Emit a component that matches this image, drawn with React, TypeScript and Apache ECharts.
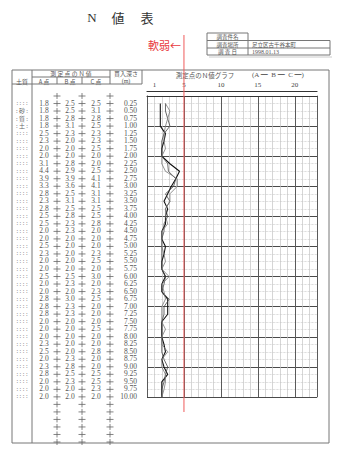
import React, { useEffect, useRef } from 'react';
import * as echarts from 'echarts';

// ---- data read from the sheet ----
const depthLabels = ['0.25','0.50','0.75','1.00','1.25','1.50','1.75','2.00','2.25','2.50','2.75','3.00','3.25','3.50','3.75','4.00','4.25','4.50','4.75','5.00','5.25','5.50','5.75','6.00','6.25','6.50','6.75','7.00','7.25','7.50','7.75','8.00','8.25','8.50','8.75','9.00','9.25','9.50','9.75','10.00'];
const nA = [1.8,1.8,1.8,1.8,2.5,2.3,2.0,2.0,3.1,4.4,3.9,3.3,2.8,2.3,2.8,2.5,2.5,2.0,2.0,2.5,2.3,2.0,2.0,2.5,2.0,2.0,2.8,2.8,2.8,2.0,2.0,2.0,2.3,2.5,2.0,2.3,2.8,2.0,2.0,2.0];
const nB = [2.5,2.5,2.8,3.1,2.3,2.0,2.0,2.0,2.8,2.9,3.9,3.6,2.5,3.1,2.5,2.8,2.3,2.3,2.0,2.0,2.0,2.0,2.0,2.5,2.3,2.0,3.0,2.3,2.3,2.0,2.0,2.0,2.0,2.0,2.3,2.8,2.5,2.3,2.0,2.0];
const nC = [2.5,3.1,2.8,2.5,2.3,2.3,2.5,2.0,2.0,2.5,4.1,4.1,3.1,3.1,2.5,2.5,2.8,2.0,2.0,2.0,2.3,2.5,2.0,3.0,2.0,2.3,2.5,2.0,2.0,2.0,2.5,2.0,2.0,2.8,2.0,2.0,2.5,2.5,2.3,2.0];
const blankRowDepths = [0, 10.25, 10.5, 10.75, 11, 11.25, 11.5];
const soilChars = ['砂', '質', '土'];
const soilCharDepths = [0.5, 0.75, 1.0];
const nTickLabels = [1, 5, 10, 15, 20];
const softLimit = 5;
const surveyName = '';
const surveyPlace = '足立区古千谷本町';
const surveyDate = '1998.01.13';

// ---- layout / style ----
const SERIF = '"Liberation Serif", "Noto Sans CJK JP", serif';
const JP = '"Noto Sans CJK JP", sans-serif';
const INK = '#555';
const LINE = '#777';
const COL = { soil: 10, a: 32, p1: 45, b: 58, p2: 70, c: 84, p3: 98, depth: 125 };

function txt(text: string, x: number, y: number, size: number, align = 'center', family = SERIF, fill = INK) {
  return {
    type: 'text',
    style: {
      text, x, y, fill,
      font: `${size}px ${family}`,
      textAlign: align, align,
      textVerticalAlign: 'middle', verticalAlign: 'middle',
    },
  };
}
function ln(x1: number, y1: number, x2: number, y2: number, stroke = LINE, lineWidth = 1) {
  return { type: 'line', shape: { x1, y1, x2, y2 }, style: { stroke, lineWidth } };
}

const rowData = depthLabels.map((s, i) => [parseFloat(s), nA[i], nB[i], nC[i]]);
const plusDepths = [...blankRowDepths.slice(0, 1), ...depthLabels.map((s) => parseFloat(s)), ...blankRowDepths.slice(1)];

function buildOption() {
  const graphic: any[] = [
    // title
    txt('N', 92, 17, 13, 'center', SERIF, '#333'),
    txt('値', 118, 17, 13, 'center', JP, '#333'),
    txt('表', 147, 17, 13, 'center', JP, '#333'),
    // info box
    ln(207, 33, 248, 33), ln(207, 33, 207, 55), ln(248, 33, 248, 55),
    ln(207, 40.5, 330, 40.5), ln(207, 48, 330, 48), ln(207, 55, 330, 55), ln(330, 40.5, 330, 55),
    ln(209, 57, 332, 57, '#ccc', 1),
    txt('調査件名', 227.5, 37, 5.5, 'center', JP),
    txt('調査場所', 227.5, 44.5, 5.5, 'center', JP),
    txt('調 査 日', 227.5, 51.5, 5.5, 'center', JP),
    txt(surveyName, 252, 37, 5.5, 'left', JP),
    txt(surveyPlace, 252, 44.5, 5.5, 'left', JP),
    txt(surveyDate, 252, 51.5, 6, 'left', SERIF),
    // table frame
    { type: 'rect', shape: { x: 12, y: 70, width: 317, height: 373 }, style: { fill: 'none', stroke: LINE, lineWidth: 1 } },
    ln(32, 70, 32, 443),
    ln(32, 77, 110, 77),
    ln(57, 77, 57, 84), ln(82, 77, 82, 84),
    ln(110, 70, 110, 84), ln(142, 70, 142, 84),
    ln(12, 84, 142, 84),
    txt('測 定 点 の Ｎ 値', 71, 73.2, 5.8, 'center', JP),
    txt('A 点', 44, 81, 5.8, 'center', JP),
    txt('B 点', 70, 81, 5.8, 'center', JP),
    txt('C 点', 96, 81, 5.8, 'center', JP),
    txt('土質', 22, 81, 6, 'center', JP),
    txt('貫入深さ', 126, 73.2, 6, 'center', JP),
    txt('(m)', 126, 81, 6, 'center', SERIF),
    txt('測定点のＮ値グラフ', 205, 75, 6.5, 'center', JP),
    txt('(A ━  B ━  C ━)', 252, 75, 7, 'left', SERIF),
  ];

  return {
    animation: false,
    backgroundColor: '#fff',
    graphic,
    grid: [
      { left: 147, right: 23, top: 96, height: 301 },
      { left: 12, width: 130, top: 96, height: 346 },
    ],
    xAxis: [
      {
        gridIndex: 0, type: 'value', min: 0, max: 23, interval: 5, position: 'top',
        axisLine: { show: true, onZero: false, lineStyle: { color: '#333', width: 1 } },
        axisTick: { show: false }, axisLabel: { show: false },
        splitLine: { show: true, lineStyle: { color: '#5a5a5a', width: 1 } },
        z: 3,
      },
      {
        gridIndex: 0, type: 'value', min: 0, max: 23, interval: 1, position: 'top', offset: 5,
        axisLine: { show: true, onZero: false, lineStyle: { color: '#333', width: 1.2 } },
        axisTick: { show: false },
        axisLabel: {
          show: true, margin: 3, fontSize: 7, color: '#444', fontFamily: SERIF,
          formatter: (v: number) => (nTickLabels.includes(v) ? String(v) : ''),
        },
        splitLine: { show: true, lineStyle: { color: '#c4c4c4', width: 0.7 } },
      },
      { gridIndex: 1, type: 'value', min: 0, max: 130, show: false },
    ],
    yAxis: [
      {
        gridIndex: 0, type: 'value', min: 0, max: 10, interval: 1, inverse: true,
        axisLine: { show: true, onZero: false, lineStyle: { color: '#333', width: 1 } },
        axisTick: { show: false }, axisLabel: { show: false },
        splitLine: { show: true, lineStyle: { color: '#4a4a4a', width: 1 } },
        minorTick: { show: false, splitNumber: 4 },
        minorSplitLine: { show: true, lineStyle: { color: '#bdbdbd', width: 0.7, type: 'dotted' } },
      },
      {
        gridIndex: 0, type: 'value', min: 0, max: 10, inverse: true, position: 'right',
        axisLine: { show: true, onZero: false, lineStyle: { color: '#666', width: 0.8 } },
        axisTick: { show: false }, axisLabel: { show: false }, splitLine: { show: false },
      },
      { gridIndex: 1, type: 'value', min: 0, max: 11.5, inverse: true, show: false },
    ],
    series: [
      {
        type: 'line', name: 'A', xAxisIndex: 0, yAxisIndex: 0, symbol: 'none', z: 5,
        data: rowData.map((r) => [r[1], r[0]]),
        lineStyle: { color: '#111', width: 1.1 },
      },
      {
        type: 'line', name: 'B', xAxisIndex: 0, yAxisIndex: 0, symbol: 'none', z: 5,
        data: rowData.map((r) => [r[2], r[0]]),
        lineStyle: { color: '#444', width: 0.8 },
      },
      {
        type: 'line', name: 'C', xAxisIndex: 0, yAxisIndex: 0, symbol: 'none', z: 5,
        data: rowData.map((r) => [r[3], r[0]]),
        lineStyle: { color: '#777', width: 0.8 },
      },
      {
        type: 'custom', xAxisIndex: 0, yAxisIndex: 0, clip: false, z: 6,
        data: [[softLimit, 0]],
        renderItem: (_p: any, api: any) => {
          const top = api.coord([api.value(0), 0]);
          const bot = api.coord([api.value(0), 10]);
          return {
            type: 'group',
            children: [
              ln(top[0], top[1] - 61, bot[0], bot[1] + 15, '#ef5a5a', 1),
              txt('軟弱←', top[0] - 3, top[1] - 51, 11, 'right', JP, '#e8383d'),
            ],
          };
        },
      },
      {
        type: 'custom', xAxisIndex: 2, yAxisIndex: 2, clip: false,
        data: rowData,
        renderItem: (_p: any, api: any) => {
          const d = api.value(0);
          const X = (k: number) => api.coord([k, d])[0];
          const y = api.coord([0, d])[1] - 0.5;
          const k = soilCharDepths.indexOf(d);
          const soil = k >= 0 ? `: ${soilChars[k]} :` : ': : : :';
          return {
            type: 'group',
            children: [
              txt(soil, X(COL.soil), y, 6, 'center', k >= 0 ? JP : SERIF, '#666'),
              txt(api.value(1).toFixed(1), X(COL.a), y, 7.5),
              txt(api.value(2).toFixed(1), X(COL.b), y, 7.5),
              txt(api.value(3).toFixed(1), X(COL.c), y, 7.5),
              txt(depthLabels[_p.dataIndex], X(COL.depth), y, 7.5, 'right'),
            ],
          };
        },
      },
      {
        type: 'custom', xAxisIndex: 2, yAxisIndex: 2, clip: false,
        data: plusDepths.map((d) => [0, d]),
        renderItem: (_p: any, api: any) => {
          const d = api.value(1);
          const y = api.coord([0, d])[1];
          const children: any[] = [];
          [COL.p1, COL.p2, COL.p3].forEach((c) => {
            const x = api.coord([c, d])[0];
            children.push(ln(x - 3.5, y, x + 3.5, y, '#666', 0.8));
            children.push(ln(x, y - 3, x, y + 3, '#666', 0.8));
          });
          return { type: 'group', children };
        },
      },
    ],
  };
}

export default function App() {
  const ref = useRef<HTMLDivElement>(null);
  useEffect(() => {
    const chart = echarts.init(ref.current!, null, { renderer: 'svg' });
    chart.setOption(buildOption() as any);
    return () => chart.dispose();
  }, []);
  return (
    <div
      ref={ref}
      style={{ position: 'absolute', left: 0, top: 0, width: 340, height: 450, background: '#fff' }}
    />
  );
}
